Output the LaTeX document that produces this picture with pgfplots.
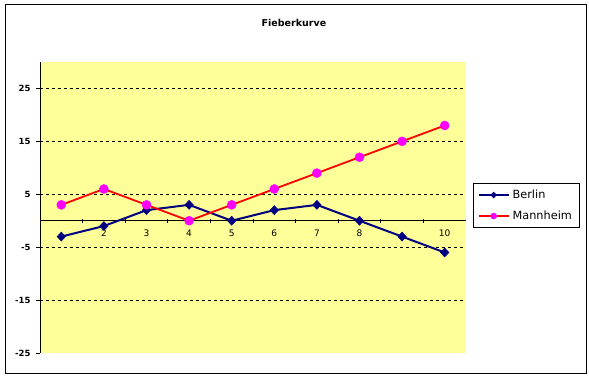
\documentclass[border=0pt]{standalone}
\usepackage{pgfplots}
\pgfplotsset{compat=1.18}
\usepackage{fontspec}
\setmainfont{DejaVu Sans}
\definecolor{bg}{HTML}{FFFF99}
\definecolor{navy}{HTML}{000080}
\definecolor{mag}{HTML}{FF00FF}
\begin{document}
\begin{tikzpicture}
\useasboundingbox (0pt,0pt) rectangle (589pt,378pt);
\draw[black, line width=1pt, fill=white] (5pt,5pt) rectangle (586pt,373pt);
\node[font=\fontsize{9.5}{11}\selectfont\bfseries] at (294pt,355pt) {Fieberkurve};
\begin{axis}[
 at={(40pt,25pt)}, anchor=south west, scale only axis,
 width=426pt, height=291pt,
 xmin=0.5, xmax=10.5, ymin=-25, ymax=30,
 axis background/.style={fill=bg},
 axis x line*=middle, axis y line*=left,
 axis line style={black, line width=0.8pt},
 major tick length=4pt,
 tick style={black, line width=0.8pt},
 xtick={1.5,2.5,...,9.5},
 xticklabels={},
 xtick align=center,
 extra x ticks={2,3,4,5,6,7,8,10},
 extra x tick style={major tick length=0pt},
 xticklabel style={font=\fontsize{9}{10}\selectfont, yshift=-6pt},
 ytick={-25,-15,...,25},
 ytick align=outside,
 extra y ticks={-15,-5,5,15,25},
 extra y tick labels={},
 extra y tick style={grid=major, major tick length=0pt},
 grid style={black, dashed, line width=0.6pt},
 yticklabel style={font=\fontsize{8.5}{9}\selectfont\bfseries, xshift=-2pt},
 /pgf/number format/assume math mode=true,
 legend style={at={(1.017,0.584)}, anchor=north west, draw=black, fill=white,
   line width=0.8pt,
   font=\fontsize{11.3}{13}\selectfont, row sep=7pt, inner xsep=4pt, inner ysep=4.5pt,
   cells={anchor=west}, nodes={inner xsep=3pt}},
 legend image code/.code={
   \draw[#1, mark=none] (0pt,0pt) -- (30pt,0pt);
   \draw[#1, mark size=3pt] plot coordinates {(15pt,0pt)};
 },
 clip=false,
]
\addplot[navy, line width=2pt, mark=diamond*, mark size=4.5pt,
  mark options={fill=navy, draw=navy, line width=0.5pt, xscale=1.25}]
 coordinates {(1,-3)(2,-1)(3,2)(4,3)(5,0)(6,2)(7,3)(8,0)(9,-3)(10,-6)};
\addlegendentry{Berlin}
\addplot[red, line width=1.8pt, mark=*, mark size=4.5pt,
  mark options={fill=mag, draw=mag, line width=0.5pt}]
 coordinates {(1,3)(2,6)(3,3)(4,0)(5,3)(6,6)(7,9)(8,12)(9,15)(10,18)};
\addlegendentry{Mannheim}
\end{axis}
\end{tikzpicture}
\end{document}
